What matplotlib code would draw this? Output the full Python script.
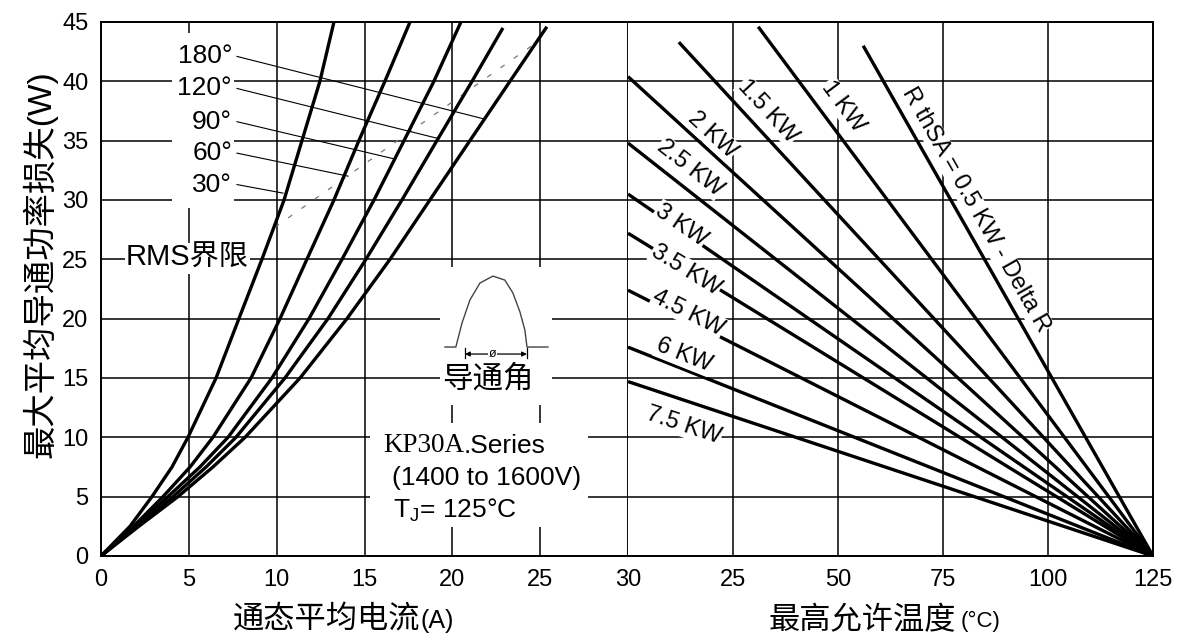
import numpy as np
import matplotlib.pyplot as plt
from matplotlib.patches import Rectangle

plt.rcParams['font.family'] = ['Liberation Sans', 'Noto Sans CJK SC']

# ---- left panel: power loss (W) vs average on-state current (A) ----
angle_names = ['30°', '60°', '90°', '120°', '180°']
power_30 = [0, 2.5, 5, 7.5, 10, 15, 20, 25, 30, 35, 40, 45]
current_30 = [0, 1.65, 2.90, 4.04, 4.95, 6.55, 7.85, 9.16, 10.42, 11.44, 12.46, 13.26]
power_60 = [0, 2.5, 5, 7.5, 10, 15, 20, 25, 30, 35, 40, 45]
current_60 = [0, 1.85, 3.53, 5.07, 6.37, 8.54, 10.19, 11.72, 13.26, 14.68, 16.16, 17.59]
power_90 = [0, 2.5, 5, 7.5, 10, 15, 20, 25, 30, 35, 40, 45]
current_90 = [0, 1.95, 3.81, 5.63, 7.23, 9.73, 11.84, 13.72, 15.54, 17.25, 18.95, 20.49]
power_120 = [0, 2.5, 5, 7.5, 10, 15, 20, 25, 30, 35, 40, 44.5]
current_120 = [0, 2.05, 4.10, 5.98, 7.68, 10.47, 12.92, 15.08, 17.13, 19.12, 21.12, 22.88]
power_180 = [0, 2.5, 5, 7.5, 10, 15, 20, 25, 30, 35, 40, 44.6]
current_180 = [0, 2.15, 4.38, 6.37, 8.20, 11.33, 14.00, 16.45, 18.72, 21.00, 23.28, 25.38]

curves = [(current_30, power_30), (current_60, power_60), (current_90, power_90),
          (current_120, power_120), (current_180, power_180)]

# label text positions and leader end points (A, W)
angle_label_y = [31.3, 33.95, 36.6, 39.4, 42.1]
leader_end_x = [10.36, 14.06, 16.73, 19.12, 21.86]
leader_end_y = [30.58, 32.01, 33.45, 35.21, 36.81]

# RMS limit dashed line
rms_x = [9.9, 25.0]
rms_y = [27.7, 43.5]

# ---- right panel: power vs max allowed temperature, per thermal resistance ----
rth_labels = ['R thSA = 0.5 KW - Delta R', '1 KW', '1.5 KW', '2 KW', '2.5 KW',
              '3 KW', '3.5 KW', '4.5 KW', '6 KW', '7.5 KW']
temp_start = [56, 31, 12.1, 0, 0, 0, 0, 0, 0, 0]
power_start = [43.0, 44.6, 43.3, 40.4, 34.8, 30.5, 27.2, 22.4, 17.6, 14.7]
temp_end = 125
power_end = 0
rth_label_x = [82.8, 51.2, 33.3, 20.0, 14.8, 12.6, 13.8, 14.3, 13.3, 13.3]
rth_label_y = [29.2, 37.9, 37.5, 35.5, 32.7, 27.9, 24.1, 20.5, 16.9, 11.0]

# conduction angle icon (A, W)
icon_x = [19.58, 20.20, 20.55, 21.00, 21.57, 22.31, 22.99, 23.45, 23.85, 24.13, 24.25, 25.44]
icon_y = [17.61, 17.61, 19.63, 21.57, 23.00, 23.59, 23.25, 22.16, 20.56, 19.04, 17.61, 17.61]

W, H = 1188, 642
fig = plt.figure(figsize=(W / 100, H / 100), dpi=100)
ax1 = fig.add_axes([101 / W, 86 / H, 527 / W, 534 / H])
ax2 = fig.add_axes([628 / W, 86 / H, 525 / W, 534 / H])

for ax in (ax1, ax2):
    ax.set_ylim(0, 45)
    ax.set_yticks(np.arange(0, 46, 5))
    ax.grid(True, color='black', lw=1.1)
    ax.set_axisbelow(True)
    ax.tick_params(length=0, labelsize=17, pad=9)
    for s in ax.spines.values():
        s.set_linewidth(1.4)

ax1.set_xlim(0, 30)
ax1.set_xticks(np.arange(0, 31, 5))
ax1.spines['right'].set_linewidth(1.1)
ax2.set_xlim(0, 125)
ax2.set_xticks([25, 50, 75, 100, 125])
ax2.set_yticklabels([])
ax2.spines['left'].set_visible(False)

# white areas that break the grid behind labels
def white_box(ax, x0, y0, x1, y1):
    ax.add_patch(Rectangle((x0, y0), x1 - x0, y1 - y0, fc='white', ec='none', zorder=1))

white_box(ax1, 4.04, 29.32, 7.57, 44.06)
white_box(ax1, 19.29, 12.72, 25.67, 24.35)
white_box(ax1, 15.31, 2.44, 27.72, 11.2)

for (cx, cy) in curves:
    ax1.plot(cx, cy, color='black', lw=2.4, zorder=3, solid_capstyle='butt',
             solid_joinstyle='round')

ax1.plot(rms_x, rms_y, color='#777777', lw=0.9, ls=(0, (4, 9)), zorder=2.5)

for name, ly, ex, ey in zip(angle_names, angle_label_y, leader_end_x, leader_end_y):
    ax1.text(7.46, ly, name, ha='right', va='center', fontsize=19, zorder=4)
    ax1.plot([7.74, ex], [ly, ey], color='black', lw=0.8, zorder=2.6)

ax1.text(4.92, 25.1, 'RMS界限', ha='center', va='center', fontsize=21, zorder=4,
         bbox=dict(fc='white', ec='none', pad=1))

# conduction angle icon
ax1.plot(icon_x, icon_y, color='#444444', lw=1.0, zorder=3)
ax1.annotate('', xy=(20.72, 17.02), xytext=(24.25, 17.02),
             arrowprops=dict(arrowstyle='<|-|>', color='black', lw=0.9,
                             mutation_scale=7, shrinkA=0, shrinkB=0), zorder=3)
ax1.plot([20.72, 20.72], [16.68, 17.52], color='black', lw=0.9, zorder=3)
ax1.plot([24.25, 24.25], [16.68, 17.52], color='black', lw=0.9, zorder=3)
ax1.text(22.31, 17.02, 'ø', ha='center', va='center', fontsize=9, zorder=4,
         bbox=dict(fc='white', ec='none', pad=0.5))
ax1.text(22.03, 14.83, '导通角', ha='center', va='center', fontsize=22, zorder=4,
         bbox=dict(fc='white', ec='none', pad=1))

t1 = ax1.text(16.05, 9.35, 'KP30A', ha='left', va='center', fontsize=19.5,
              family='Liberation Serif', zorder=4)
ax1.annotate('.Series', xy=(1, 0), xycoords=t1, ha='left', va='bottom', fontsize=19,
             zorder=4)
ax1.text(16.56, 6.57, '(1400 to 1600V)', ha='left', va='center', fontsize=19, zorder=4)
ax1.text(16.62, 3.88, r'$\mathregular{T_J}$= 125°C', ha='left', va='center',
         fontsize=19, zorder=4)

# right panel lines
for name, t0, p0, lx, ly in zip(rth_labels, temp_start, power_start, rth_label_x, rth_label_y):
    ax2.plot([t0, temp_end], [p0, power_end], color='black', lw=2.4, zorder=3,
             solid_capstyle='butt')
    ang = np.degrees(np.arctan2(power_end - p0, temp_end - t0))
    ax2.text(lx, ly, name, rotation=ang, transform_rotates_text=True,
             rotation_mode='anchor', ha='center', va='center', fontsize=17, zorder=4,
             bbox=dict(fc='white', ec='none', pad=0.5))

# axis titles
fig.text(40 / W, (H - 264) / H, '最大平均导通功率损失(W)', rotation=90,
         ha='center', va='center', fontsize=24)
xl1 = fig.text(233 / W, (H - 621) / H, '通态平均电流', ha='left', va='center', fontsize=22.5)
ax1.annotate('(A)', xy=(1, 0.5), xycoords=xl1, ha='left', va='center', fontsize=18,
             annotation_clip=False)
xl2 = fig.text(769 / W, (H - 621) / H, '最高允许温度', ha='left', va='center', fontsize=22.5)
ax2.annotate('(°C)', xy=(1.02, 0.5), xycoords=xl2, ha='left', va='center', fontsize=16,
             annotation_clip=False)

fig.savefig('out.png', dpi=100)
